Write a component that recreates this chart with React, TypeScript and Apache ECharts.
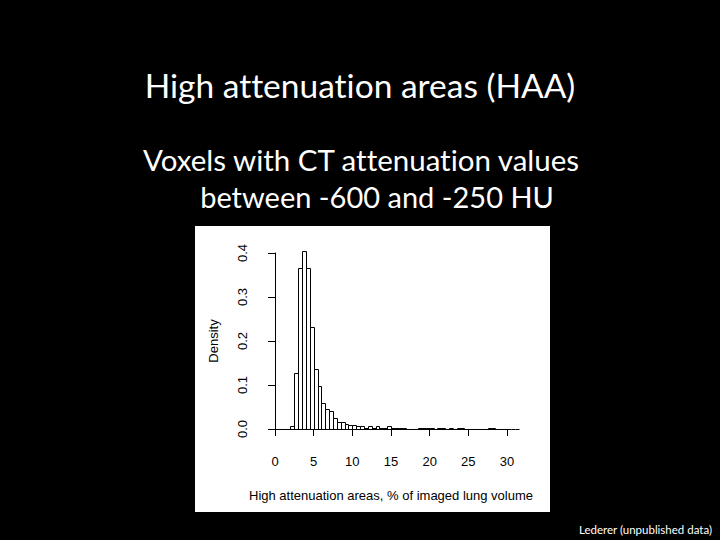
import React, { useEffect, useRef } from "react";
import * as echarts from "echarts";

// Histogram bins (left edges, % of imaged lung volume), bin width 0.5
const binStarts = [
  2.0, 2.5, 3.0, 3.5, 4.0, 4.5, 5.0, 5.5, 6.0, 6.5,
  7.0, 7.5, 8.0, 8.5, 9.0, 9.5, 10.0, 10.5, 11.0, 11.5,
  12.0, 12.5, 13.0, 13.5, 14.0, 14.5, 15.0, 15.5, 16.0, 16.5,
  17.0, 17.5, 18.0, 18.5, 19.0, 19.5, 20.0, 20.5, 21.0, 21.5,
  22.0, 22.5, 23.0, 23.5, 24.0, 24.5, 25.0, 25.5, 26.0, 26.5,
  27.0, 27.5, 28.0, 28.5, 29.0, 29.5, 30.0, 30.5, 31.0,
];
const binWidth = 0.5;
const densities = [
  0.007, 0.127, 0.365, 0.404, 0.365, 0.232, 0.136, 0.098, 0.058, 0.045,
  0.042, 0.026, 0.016, 0.016, 0.011, 0.009, 0.009, 0.006, 0.006, 0.002,
  0.006, 0.002, 0.006, 0.002, 0.002, 0.006, 0.002, 0.002, 0.002, 0.002,
  0, 0, 0, 0.002, 0.002, 0.002, 0.002, 0, 0.002, 0.002,
  0, 0.002, 0, 0.002, 0.002, 0, 0, 0, 0, 0,
  0, 0.002, 0.002, 0, 0, 0, 0, 0, 0,
];

const titleText = "High attenuation areas (HAA)";
const subtitleLines = ["Voxels with CT attenuation values", "between -600 and -250 HU"];
const xAxisTitle = "High attenuation areas, % of imaged lung volume";
const yAxisTitle = "Density";
const creditText = "Lederer (unpublished data)";

const axisFont = "'Liberation Sans', Arial, sans-serif";
const slideFont = "Lato, 'Open Sans', sans-serif";

export default function App() {
  const ref = useRef<HTMLDivElement>(null);

  useEffect(() => {
    if (!ref.current) return;
    const chart = echarts.init(ref.current, undefined, { renderer: "svg" });
    const crisp = (v: number) => Math.round(v) + 0.5;

    chart.setOption({
      animation: false,
      backgroundColor: "#000000",
      grid: { left: 275, top: 253, width: 232, height: 176, containLabel: false },
      xAxis: {
        type: "value",
        min: 0,
        max: 30,
        interval: 5,
        offset: 8,
        z: 5,
        axisLine: { show: true, lineStyle: { color: "#000", width: 1 } },
        axisTick: { show: true, length: 7, lineStyle: { color: "#000", width: 1 } },
        axisLabel: { color: "#000", fontSize: 13, fontFamily: axisFont, margin: 18 },
        splitLine: { show: false },
        name: xAxisTitle,
        nameLocation: "middle",
        nameGap: 52,
        nameTextStyle: { color: "#000", fontSize: 13, fontFamily: axisFont },
      },
      yAxis: {
        type: "value",
        min: 0,
        max: 0.4,
        interval: 0.1,
        offset: 9,
        z: 5,
        axisLine: { show: true, lineStyle: { color: "#000", width: 1 } },
        axisTick: { show: true, length: 7, lineStyle: { color: "#000", width: 1 } },
        axisLabel: {
          color: "#000",
          fontSize: 13,
          fontFamily: axisFont,
          rotate: 90,
          margin: 17,
          formatter: (v: number) => v.toFixed(1),
        },
        splitLine: { show: false },
        name: yAxisTitle,
        nameLocation: "middle",
        nameRotate: 90,
        nameGap: 46,
        nameTextStyle: { color: "#000", fontSize: 13, fontFamily: axisFont },
      },
      graphic: [
        {
          type: "rect",
          z: -1,
          shape: { x: 195, y: 226, width: 355, height: 286 },
          style: { fill: "#ffffff" },
        },
        {
          type: "text",
          x: 360,
          y: 85,
          style: {
            text: titleText,
            fill: "#ffffff",
            fontSize: 33.5,
            fontFamily: slideFont,
            align: "center",
            verticalAlign: "middle",
          },
        },
        {
          type: "text",
          x: 361,
          y: 159,
          style: {
            text: subtitleLines[0],
            fill: "#ffffff",
            fontSize: 29.5,
            fontFamily: slideFont,
            align: "center",
            verticalAlign: "middle",
          },
        },
        {
          type: "text",
          x: 377,
          y: 196,
          style: {
            text: subtitleLines[1],
            fill: "#ffffff",
            fontSize: 29,
            fontFamily: slideFont,
            align: "center",
            verticalAlign: "middle",
          },
        },
        {
          type: "text",
          x: 712,
          y: 529,
          style: {
            text: creditText,
            fill: "#ffffff",
            fontSize: 11.5,
            fontFamily: slideFont,
            align: "right",
            verticalAlign: "middle",
          },
        },
      ],
      series: [
        {
          type: "custom",
          clip: false,
          z: 4,
          encode: { x: [0, 1], y: 2 },
          data: binStarts.map((s, i) => [s, s + binWidth, densities[i]]),
          renderItem: (_params: any, api: any) => {
            const x0 = api.value(0);
            const x1 = api.value(1);
            const d = api.value(2);
            const p0 = api.coord([x0, 0]);
            const p1 = api.coord([x1, d]);
            const left = crisp(p0[0]);
            const right = crisp(p1[0]);
            const base = crisp(p0[1]);
            if (d === 0) {
              return {
                type: "line",
                shape: { x1: left, y1: base, x2: right, y2: base },
                style: { stroke: "#000", lineWidth: 1 },
              };
            }
            const top = Math.min(crisp(p1[1]), base - 1);
            return {
              type: "rect",
              shape: { x: left, y: top, width: right - left, height: base - top },
              style: { fill: "#fff", stroke: "#000", lineWidth: 1 },
            };
          },
        },
      ],
    });

    return () => chart.dispose();
  }, []);

  return (
    <div
      ref={ref}
      style={{
        position: "fixed",
        left: 0,
        top: 0,
        width: 720,
        height: 540,
        background: "#000",
        fontVariantLigatures: "none",
      }}
    />
  );
}
